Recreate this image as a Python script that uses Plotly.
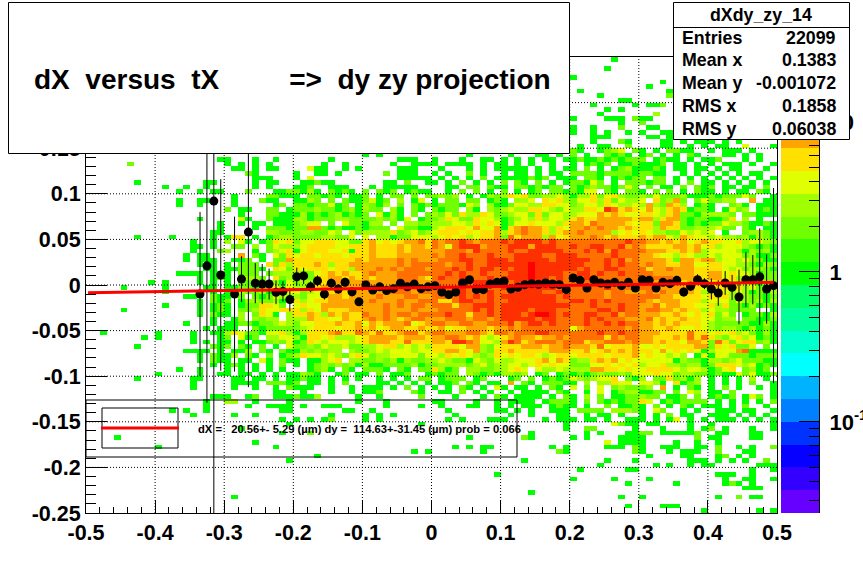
import math
import plotly.graph_objects as go

W, H = 863, 571
X_MIN, X_MAX, N_X = -0.5, 0.5, 100
Y_MIN, Y_MAX, N_Y = -0.25, 0.25, 100
Z_LOG_MIN, Z_LOG_MAX = -1.607, 1.433

# bin contents per level symbol
LEVEL_COUNTS = {".": None, "1": 1, "2": 2, "3": 3, "4": 4, "5": 5, "6": 8, "7": 12, "8": 16, "9": 22}

PALETTE = ["#6600ff", "#3300ff", "#0500ff", "#0033ff", "#0080ff", "#00b3ff", "#00ffff", "#00ffcc", "#00ff99", "#00ff66",
           "#00ff00", "#33ff00", "#70ff00", "#a0ff00", "#e0ff00", "#ffe000", "#ffa500", "#ff7000", "#ff3000", "#ff0000"]

# rows from the top of the plot; ten blocks of ten bins, "-" is an empty block
CELL_ROWS = [
"- - - - - - - ......1... - -",
"- - - - - - - - - -",
"- - - - - - - .....1.... - -",
"- - - - - - - - - -",
"- - - - - - - 1......... - -",
"- - - - - - - - ...1...... -",
"- - - - - - - - .1........ -",
"- - - - - - - .1........ ....1..... -",
"- - - - - - - ....1..... ....2..... -",
"- - - - - - - .......11. - -",
"- - - - - - - ...1.....1 .112...... -",
"- - - - - - - .....1.1.. - -",
"- - - - - - - ....1..... ..3....... -",
"- - - - - - - 1....111.2 11........ -",
"- - - - - - - .......1.. 2......... -",
"- - - - - - - 1..1...2.. .11....... -",
"- - - - - - - 1..1.1..1. 1..11..... -",
"- - - - - - - ...111.... .11.11.... -",
"- - - - - - - ...1...21. ...11.1.11 1.1.1.....",
"- - - - - - - .1..11..2. ...11..1.1 .11..4...1",
"- - - - - - - 21..1234.2 1.1.2211.. 1.111.1...",
"- - - - 1.1....... .....1.... .1...11.1. 2.1..2121. 12.1.1.21. ..11.1.1..",
"- .........1 1...1..1.. .....1.... .....111.. 1...1..11. 1.1.1.11.1 1211212122 2.1211.1.1 12...1.1..",
"......2... - 1.1.1.1... ....1..1.. ....1..111 1.1111.1.1 1.1.1..1.. 1.1212.112 1112.11.1. 1.111.1..1",
"- - .11.1.11.. ..411..1.1 .....111.. .1...1.1.1 1111.1.1.1 1.2.1.1231 1121.11.11 .1.11...1.",
"- - ...21..... 1..11.1... ...2.111.. 1.1..2.1.. 1.11.1.11. 2222122221 2211..1.1. 1.1.1.11..",
"- - ....111... 1.4....... .....11111 .1.1.1.2.1 1111212.11 1.221.1212 2.22.1.1.1 .1.1.1.1.1",
".......1.. .......11. ....1.11.. .11211.... ...11.2..1 1.1.2.1.1. 2.21.2.1.1 22142.1.22 2122.1.2.1 1.1.1.1.1.",
"- .1..1..1.. ....1.1... 112..111.. .1.11111.. ..11.22.21 1.2212122. 2123221242 .2.11.2.21 2.11.11.2.",
"- ...1..1.11 ...2...112 2131.2121. 2.212.1211 ..1.2.2.1. 2.1.12.221 2144.21.22 1.2.2.1.21 1.1.11.21.",
"- - .1....2211 1.22121.11 2.1.22.2.2 2323.1.132 3545223343 1335245322 3242223111 2122242..1",
"- ...1..11.. .1...211.. 1132.2.211 2412.3.14. 1.22.22.12 1.334.5453 2445352433 4.52362.24 2233..6.11",
"- ...1..1... .1.....12. 22122412.1 3213.2.212 1222143.31 1244335544 2344354334 3632653.12 1..231.111",
"- - 2.11..22.1 2223221231 322.31.21. 2122.31.32 3433554324 3355487565 4643565122 1.1423.121",
"- - ..1...2211 1312123121 2.4131.2.2 3242533542 2344252443 3444656544 5543562213 3332.22111",
"- ......1... ..41..2111 3312223322 2232314.12 2354225443 1234353443 5655666665 6635662122 1125.3.1..",
"- .........1 ..1.11.111 2344.2.422 133.2.3322 3334435454 1244544435 6657666654 5526652121 2243321121",
"- .........1 ....1.2221 2266212112 1222.42211 3455546446 1567665354 6676766565 5536552233 3422.21.11",
"- ........11 ...1..3322 2332243.42 3333523423 4555454556 3567665356 6766663454 5433224343 4.1..23321",
".......1.. ..1.....1. 155.1.1233 222233224. 4.33122444 3454534556 2756663645 6667656555 6566436544 3433231321",
"- .....1..1. 3.41.12545 2445554422 5645456675 7677876777 8788887877 7777777787 7665656456 5544534432",
"- .....11.1. .22.3.2433 3455554455 5655565665 7647888677 7888688877 8778877867 6555566564 5344432121",
"- .....1...2 3...1.2345 1455544515 5655565666 6677768777 7877888887 7787868777 7666556563 4444313231",
"- ....1.11.. ..6.21.425 4554555455 5655566666 7677877787 7788887788 8777778777 6654435433 4344423112",
"- ....1.111. .112.1.226 5555555556 5666676766 6777887788 8788888788 8887787867 6666526656 6344343211",
"- ......1.1. 1.222.5253 5556535566 6666676777 7767787788 8888988888 8877787877 6766556644 5544332132",
"- .......11. 112221.542 5455545536 6676767776 7778787887 8788988888 8787788777 7566766655 5543423321",
"- ...1111.12 1.222.2333 3224565655 6766677777 7787877877 7888988887 7887877877 7766666655 6645443122",
"- ......1.12 1.2332.523 1226566565 6566677765 7877877787 8888988787 8787777777 7777766645 6645334222",
".........1 .1....1.1. 1.22122314 2334566566 7666677766 7777778877 8788887887 7777777777 7767665655 4564342132",
".....1.... .1.....11. 1122134424 3355656666 6666767676 7777878877 8788888878 7777787777 7766666654 5553534213",
"- .1....1.1. 1232231124 4234456566 6666777677 7677877787 7888887786 7777767766 6767665653 4443431213",
"- ....11..21 1.2.212433 3244566566 6676667766 7777878787 8888888878 7777767777 7776655554 5553332212",
"- ......1.21 2.13322313 5345566667 6766676677 7557887787 7888888877 8878787777 7656665553 4442432313",
"- .1....1.12 1.1225542. 4544666666 6667676776 7775778887 8888888888 7778777877 6675665544 5352213121",
".....1.... ......1.12 1.22354455 5354655566 6667666766 6777778787 8888788877 7777887877 6776656553 4332222..1",
"- ......1.21 1.3.2541.3 5565365655 7667677677 7787757787 8887899878 7788778677 6665565454 5242.12213",
"- ........1. .13.3233.3 3365544655 6767656776 6677767767 8888878877 7787877766 6756556554 4233.22112",
"- ....1...1. 1122122343 2445556556 4656667456 7766776677 7867887877 7787787877 6656565554 3222221131",
"- .......1.1 11..212222 2345554556 5645665565 5645566656 6767777777 4677777767 6655654454 3233213121",
"..1....... 1....1..11 3542214453 1355567557 6575567756 7766677657 7677788777 7777877877 6665555755 4545342131",
"........1. 1....1...1 2.412.3344 3155453334 5666656665 6677656434 5676656676 7777757677 6655565757 5324534121",
"- .....1.1.1 1.1.112324 1254344434 5666557555 6658876443 6875677767 7756677767 6656554665 2752455231",
".......1.. ........21 2.21.2.1.4 2232433422 3345534343 5555466324 5556665667 6665745556 4454555566 2545224.2.",
"- ....1111.1 .113.21.21 1323233.32 2343444344 5566546325 5655555666 5564565656 5546454541 3444671111",
"- ......1.21 13.21.2.12 3544343245 4233444424 4354543235 4545543455 4555545556 4544343.14 1442221222",
"- ......1.21 1.11.41.21 1.11345.33 2232313223 3432214324 3344456465 2335656454 4444413221 3323422211",
"- ........1. 121.1.1.2. 1.12323231 3112222312 2333323423 3443454544 2224454545 3445332331 2555434121",
"- ...1..1... 1.1.1.1.1. ..1231.21. 2221.21.22 5312.33223 3454.43343 3336655454 4555543443 1245.2312.",
"- 1.....1..1 1.11.1.1.1 1321..12.1 1.2.112..1 2122.32121 3323.12.12 1212322324 4454423322 1211424112",
".......1.. .....11... .11.11.1.1 1211.1.1.1 ..1.1.1.22 .1222.12.. .12.2.1212 4323445.21 3.2252313. 1.1.1.3.1.",
"- .....1.... .1111.2221 2.11.1.2.. ..11.1.1.1 .112.21.11 .6.21.2221 1.3.33544. 4431.5123. 1.1.1.2..1",
"- .....1.... .1..1..1.2 111..1..1. 111.1.2.1. 1.1.21.1.4 1.11.1.21. 4.2.4.2322 23.6.1.21. 1.2.1..1.1",
"- - .......11. .1...1..1. 112....21. .11.2.1.1. .1.1111.21 ..1.4.1233 1122.2.43. 11.2.....1",
"- ........11 1..12..111 2113.....1 ..1.....2. ...1...1.2 1.1111.1.2 1.3.2.1122 322.112.2. 1212.142.1",
"- .......1.. 33..1....1 .........1 ...1...... 11....1..1 .1111.1222 1.2.212122 54.1212222 .1.1.1.1.2",
"- .......1.. ...1..1111 .1..111... ...1....1. .1...11..1 .1.111.121 1.1..2.112 1.2.1.21.1 11.1.2..1.",
"- ..1.1..1.. ........11 .......11. .1........ ..1......1 1.1.1..111 .2222.3332 1.42..1.1. .111.11..1",
"- .....1.... .1..1..... .....1.... 1.1.1..... ...1...... .1..1...11 ..1.11.1.. 1.1.2.11.. 111.1.1.1.",
"- - ........1. 1.1.12.... 1.1....... ..1.1...11 1.....1.11 1.11.1..11 1.1.14.1.1 .111.1.1.1",
"- - .........1 - ........1. - .........1 ......4211 .11....1.. 1........1",
"- - ..1....... - - - .........1 ..22.....1 ...1...1.1 2.1...1..1",
"- - ........1. ..2....... - - ....1..... ..1.1...11 22.111112. .11...11..",
"....1..... - - - - .....1.... ...21..... 1.1....111 1.......2. 11....11..",
"- - ....1..... - - - - .....4.111 1....1..1. .1........",
"- 1......... .......1.. - - ...1.1.11. .......1.1 .....111.2 1..111..11 .2..1.1..2",
"- - - - .......1.1 .......1.. ........21 .........2 1...1.111. .2...11...",
"- - - ...1...... - - - - .1....11.. .12.1.1...",
"- - .........1 - - - ...1...... .....1...1 .......111 .1.1.1..2.",
"- - - - - - - ....1..... ..1.1..1.1 1......111",
"- - - - - - - .1......11 - ......1..1",
"- - - - - .........1 - - - .111..1...",
"- - - - - - - 1.....1... .1........ ..1..11..1",
"- - - - - - - ........1. .....1.... ..121.1...",
"- - - - - - - - - .....111..",
"- - - - - - ....1..... - - -",
"- - .1........ - - - - .......1.. 1......... .1..2.11..",
"- - - - - - - - - -",
"- - - - - - - ........1. ...111.... -",
"- - - - - - - - .........1 .......1.1",
]

PROFILE_FIRST_BIN = 16
PROFILE_Y = [-0.010, 0.021, 0.092, 0.011, None, -0.010, 0.0065, 0.058, 0.002, 0.001, 0.001, -0.008, -0.007, -0.016,
             0.009, 0.010, -0.002, 0.0045, -0.010, 0.002, -0.0045, 0.003, -0.0075, -0.0185, 0.0, -0.0055, -0.002,
             -0.006, -0.004, 0.002, -0.002, 0.001, -0.004, -0.002,
             -0.0007, -0.0077, -0.0106, -0.0077, 0.0022, 0.0058, -0.0051, -0.0051, 0.0011, 0.0029, 0.004, -0.0044,
             -0.0026, 0.0004, 0.0015, 0.0007, 0.0022, 0.0011, 0.0004, -0.0051, 0.0077, 0.0051, -0.0033, 0.0058,
             0.0022, 0.0011, 0.0029, -0.0007, 0.0029, -0.0033, 0.0058, 0.0051, -0.0033, 0.0029, 0.0015, 0.0051,
             -0.0077, -0.0015, 0.0058, 0.0015, -0.0044, -0.0088, 0.0022, -0.0026, -0.0132, 0.0058, 0.0058, 0.0091,
             -0.0044, -0.0007]
PROFILE_ERR = [0.09, 0.15, 0.40, 0.105, None, 0.085, 0.025, 0.17, 0.022, 0.022, 0.017, 0.013, 0.011, 0.013,
               0.010, 0.009, 0.006, 0.006, 0.006, 0.005, 0.005, 0.005, 0.005, 0.004, 0.004, 0.003, 0.003,
               0.003, 0.003, 0.003, 0.003, 0.003, 0.003, 0.003,
               0.003, 0.003, 0.003, 0.003, 0.003, 0.003, 0.003, 0.003, 0.003, 0.003, 0.003, 0.003,
               0.003, 0.003, 0.003, 0.003, 0.003, 0.003, 0.003, 0.003, 0.003, 0.003, 0.003, 0.003,
               0.003, 0.003, 0.003, 0.003, 0.003, 0.003, 0.003, 0.003, 0.003, 0.003, 0.004, 0.004,
               0.005, 0.005, 0.006, 0.006, 0.0115, 0.014, 0.013, 0.0137, 0.03, 0.03, 0.027, 0.053, 0.038, 0.107]

FIT_X = [-0.497, 0.495]
FIT_Y = [-0.0084, 0.003]

X_TICKS = [-0.5, -0.4, -0.3, -0.2, -0.1, 0, 0.1, 0.2, 0.3, 0.4, 0.5]
X_LABELS = ["-0.5", "-0.4", "-0.3", "-0.2", "-0.1", "0", "0.1", "0.2", "0.3", "0.4", "0.5"]
Y_TICKS = [-0.25, -0.2, -0.15, -0.1, -0.05, 0, 0.05, 0.1, 0.15, 0.2, 0.25]
Y_LABELS = ["-0.25", "-0.2", "-0.15", "-0.1", "-0.05", "0", "0.05", "0.1", "0.15", "0.2", "0.25"]

Z_TICKS = [0.1, 1, 10]
Z_LABELS = ["10<sup>-1</sup>", "1", "10"]
Z_MINOR = [0.03, 0.04, 0.05, 0.06, 0.07, 0.08, 0.09, 0.2, 0.3, 0.4, 0.5, 0.6, 0.7, 0.8, 0.9,
           2, 3, 4, 5, 6, 7, 8, 9, 20]

TITLE_TEXT = "dX\u00a0\u00a0versus\u00a0\u00a0tX\u00a0\u00a0\u00a0\u00a0\u00a0\u00a0\u00a0\u00a0\u00a0=>\u00a0\u00a0dy zy projection"
STATS_NAME = "dXdy_zy_14"
STATS_LABELS = ["Entries", "Mean x", "Mean y", "RMS x", "RMS y"]
STATS_VALUES = ["22099", "0.1383", "-0.001072", "0.1858", "0.06038"]
FIT_TEXT = "dX =\u00a0\u00a0\u00a020.56+-\u00a05.29 (\u00b5m) dy =\u00a0\u00a0114.63+-31.45 (\u00b5m) prob = 0.066"

FONT = "Liberation Sans"


def px(v):
    return v / W


def py(v):
    return 1 - v / H


matrix = []
for row in CELL_ROWS:
    symbols = ""
    blocks = row.split()
    for block in blocks:
        symbols += block.replace("-", "").ljust(10, ".")[:10]
    matrix.append(symbols.ljust(N_X, "."))
matrix.reverse()

z_log = []
for symbols in matrix:
    line = []
    for s in symbols:
        c = LEVEL_COUNTS[s]
        line.append(None if c is None else math.log10(c))
    z_log.append(line)

dx = (X_MAX - X_MIN) / N_X
dy = (Y_MAX - Y_MIN) / N_Y
x_centers = [X_MIN + dx * (i + 0.5) for i in range(N_X)]
y_centers = [Y_MIN + dy * (i + 0.5) for i in range(N_Y)]

n = len(PALETTE)
scale = []
for i, c in enumerate(PALETTE):
    scale.append([i / n, c])
    scale.append([(i + 1) / n, c])

fig = go.Figure()
fig.add_trace(go.Heatmap(x=x_centers, y=y_centers, z=z_log, zmin=Z_LOG_MIN, zmax=Z_LOG_MAX, colorscale=scale,
                         showscale=False, hoverinfo="skip", xgap=0, ygap=0))

# dotted grid above the cells
gx, gy = [], []
for v in X_TICKS[1:-1]:
    gx += [v, v, None]
    gy += [Y_MIN, Y_MAX, None]
for v in Y_TICKS[1:-1]:
    gx += [X_MIN, X_MAX, None]
    gy += [v, v, None]
fig.add_trace(go.Scatter(x=gx, y=gy, mode="lines", line=dict(color="black", width=1, dash="1px,2px"),
                         hoverinfo="skip", showlegend=False))

prof_x = [x_centers[PROFILE_FIRST_BIN + i] for i in range(len(PROFILE_Y))]
fig.add_trace(go.Scatter(x=prof_x, y=PROFILE_Y, mode="markers",
                         marker=dict(color="black", size=9, symbol="circle"),
                         error_y=dict(type="data", array=PROFILE_ERR, color="black", thickness=1, width=0),
                         showlegend=False))
fig.add_trace(go.Scatter(x=FIT_X, y=FIT_Y, mode="lines", line=dict(color="#ff0000", width=3), showlegend=False))

# colour scale drawn as its own column
edges = [Z_LOG_MIN + (Z_LOG_MAX - Z_LOG_MIN) * (i + 0.5) / n for i in range(n)]
fig.add_trace(go.Heatmap(x=[0], y=edges, z=[[e] for e in edges], zmin=Z_LOG_MIN, zmax=Z_LOG_MAX, colorscale=scale,
                         showscale=False, hoverinfo="skip", xaxis="x2", yaxis="y2"))

tick_font = dict(family=FONT, size=21.5, color="black", weight="bold")
fig.update_layout(
    width=W, height=H, margin=dict(l=0, r=0, t=0, b=0, autoexpand=False), paper_bgcolor="white", plot_bgcolor="white",
    showlegend=False,
    xaxis=dict(domain=[px(86), px(777)], range=[X_MIN, X_MAX], tickmode="array", tickvals=X_TICKS, ticktext=X_LABELS,
               ticks="inside", ticklen=13, tickcolor="black", tickwidth=1, showgrid=False, zeroline=False,
               showline=True, linecolor="black", linewidth=1, mirror=True, tickfont=tick_font, layer="above traces",
               automargin=False,
               minor=dict(ticks="inside", ticklen=6, tickcolor="black", tickwidth=1, tick0=-0.5, dtick=0.02,
                          showgrid=False)),
    yaxis=dict(domain=[py(513), py(57)], range=[Y_MIN, Y_MAX], tickmode="array", tickvals=Y_TICKS, ticktext=Y_LABELS,
               ticks="inside", ticklen=21, tickcolor="black", tickwidth=1, showgrid=False, zeroline=False,
               showline=True, linecolor="black", linewidth=1, mirror=True, tickfont=tick_font, layer="above traces",
               automargin=False,
               minor=dict(ticks="inside", ticklen=10, tickcolor="black", tickwidth=1, tick0=-0.25, dtick=0.01,
                          showgrid=False)),
    xaxis2=dict(domain=[px(781), px(819)], range=[-0.5, 0.5], visible=False, anchor="y2", automargin=False),
    yaxis2=dict(domain=[py(513), py(57)], range=[Z_LOG_MIN, Z_LOG_MAX], anchor="free", position=px(819), side="right",
                tickmode="array", tickvals=[math.log10(v) for v in Z_TICKS], ticktext=Z_LABELS, ticks="inside",
                ticklen=20, tickcolor="black", tickwidth=1, showgrid=False, zeroline=False, showline=True,
                linecolor="black", linewidth=1, tickfont=dict(family=FONT, size=22, color="black", weight="bold"),
                layer="above traces", automargin=False, ticklabelstandoff=5,
                minor=dict(ticks="inside", ticklen=10, tickcolor="black", tickwidth=1,
                           tickvals=[math.log10(v) for v in Z_MINOR], showgrid=False)),
)


def box(x0, y0, x1, y1, fill=None):
    fig.add_shape(type="rect", xref="paper", yref="paper", x0=px(x0), x1=px(x1), y0=py(y1), y1=py(y0),
                  line=dict(color="black", width=1), fillcolor=fill if fill else "rgba(0,0,0,0)", layer="above")


def label(x, y, text, size, anchor="left"):
    fig.add_annotation(xref="paper", yref="paper", x=px(x), y=py(y), text=text, showarrow=False, xanchor=anchor,
                       yanchor="middle", align=anchor, borderpad=0,
                       font=dict(family=FONT, size=size, color="black", weight="bold"))


# fit legend
box(86, 400, 517, 457)
box(102, 408, 178, 448)
fig.add_shape(type="line", xref="paper", yref="paper", x0=px(101), x1=px(179), y0=py(428), y1=py(428),
              line=dict(color="#ff0000", width=3), layer="above")
label(197, 429, FIT_TEXT, 11.2)

# title box
box(8.5, 2.5, 569.5, 153.5, "white")
label(33, 79, TITLE_TEXT, 28)

# statistics box
box(673.5, 2.5, 849.5, 139.5, "white")
fig.add_shape(type="line", xref="paper", yref="paper", x0=px(673.5), x1=px(849.5), y0=py(27.5), y1=py(27.5),
              line=dict(color="black", width=1), layer="above")
label(761, 15, STATS_NAME, 17.8, "center")
STATS_Y = [38, 60, 83, 106, 129]
for yy, name, value in zip(STATS_Y, STATS_LABELS, STATS_VALUES):
    label(681, yy, name, 17.8)
    label(837, yy, value, 17.8, "right")

fig.write_html("out.html", config={"displayModeBar": False},
               post_script="document.body.style.margin='0';document.body.style.overflow='hidden';")
